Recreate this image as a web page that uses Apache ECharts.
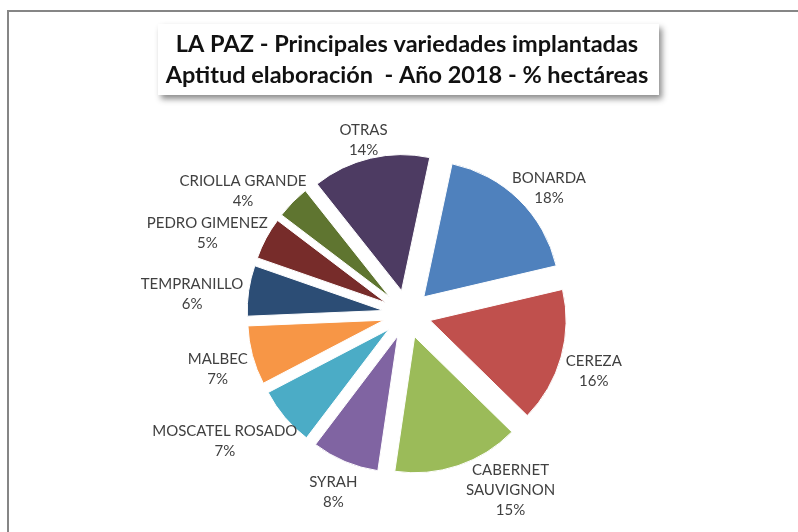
<!DOCTYPE html>
<html>
<head>
<meta charset="utf-8">
<script src="https://cdn.jsdelivr.net/npm/echarts@6/dist/echarts.min.js"></script>
<style>
  html, body { margin: 0; padding: 0; background: #ffffff; }
  #chart { width: 798px; height: 532px; }
</style>
</head>
<body>
<div id="chart"></div>
<script>
// Varieties, clockwise from the first slice
const categories = [
  'BONARDA', 'CEREZA', 'CABERNET\nSAUVIGNON', 'SYRAH', 'MOSCATEL ROSADO',
  'MALBEC', 'TEMPRANILLO', 'PEDRO GIMENEZ', 'CRIOLLA GRANDE', 'OTRAS'
];
// Share of hectares (%)
const shares = [18, 16, 15, 8, 7, 7, 6, 5, 4, 14];
const colors = [
  '#4F81BD', '#C0504D', '#9BBB59', '#8064A2', '#4BACC6',
  '#F79646', '#2C4D75', '#772C2A', '#5F7530', '#4D3B62'
];

const titleLines = [
  'LA PAZ - Principales variedades implantadas',
  'Aptitud elaboración  - Año 2018 - % hectáreas'
];

// Pie geometry
const CX = 407, CY = 314, RADIUS = 136, EXPLODE = 24;
const FIRST_ANGLE = 12;          // degrees clockwise from 12 o'clock
const LABEL_R = RADIUS + EXPLODE + 6;
const LABEL_DY = 7;
const LABEL_BOTTOM = 520;
const LABEL_FONT_SIZE = 15, LABEL_LINE = 20;
const LABEL_FONT = LABEL_FONT_SIZE + 'px Lato';

const total = shares.reduce((a, b) => a + b, 0);

// Mid-angle of every slice (clockwise from top, degrees)
const midAngles = [];
{
  let acc = FIRST_ANGLE;
  shares.forEach(v => {
    const span = v / total * 360;
    midAngles.push(acc + span / 2);
    acc += span;
  });
}

// Text measuring for the outside-end data labels
const measureCtx = document.createElement('canvas').getContext('2d');
measureCtx.font = LABEL_FONT;

function labelFor(i) {
  const text = categories[i] + '\n' + Math.round(shares[i] / total * 100) + '%';
  const lines = text.split('\n');
  const w = Math.max(...lines.map(l => measureCtx.measureText(l).width));
  const h = lines.length * LABEL_LINE;
  const a = midAngles[i] * Math.PI / 180;
  const s = Math.sin(a), c = Math.cos(a);
  let x = CX + LABEL_R * s + (w / 2) * s;
  let y = CY - LABEL_R * c - (h / 2) * c + LABEL_DY;
  if (y + h / 2 > LABEL_BOTTOM) {
    // Keep the label inside the plot: slide it up along the pie's outline
    y = LABEL_BOTTOM - h / 2;
    const cornerY = y - h / 2 - CY;
    const dx = Math.sqrt(Math.max(0, LABEL_R * LABEL_R - cornerY * cornerY));
    x = s >= 0 ? CX + dx + w / 2 - 20 : CX - dx - w / 2 + 20;
  }
  return {
    type: 'text',
    silent: true,
    z: 10,
    style: {
      text: text,
      x: x,
      y: y,
      align: 'center',
      verticalAlign: 'middle',
      font: LABEL_FONT,
      lineHeight: LABEL_LINE,
      fill: '#404040'
    }
  };
}

const chart = echarts.init(document.getElementById('chart'), null, { renderer: 'canvas' });

chart.setOption({
  backgroundColor: '#ffffff',
  animation: false,
  graphic: [
    {
      type: 'rect',
      shape: { x: 8, y: 11, width: 800, height: 540 },
      style: { fill: 'none', stroke: '#868686', lineWidth: 2 },
      silent: true
    },
    {
      type: 'rect',
      shape: { x: 158, y: 24, width: 501, height: 71 },
      style: {
        fill: '#ffffff',
        shadowBlur: 6,
        shadowColor: 'rgba(0,0,0,0.45)',
        shadowOffsetX: 3,
        shadowOffsetY: 4
      },
      silent: true
    }
  ].concat(categories.map((_, i) => labelFor(i))),
  title: {
    text: titleLines.join('\n'),
    left: 407,
    top: 29,
    textAlign: 'center',
    padding: 0,
    textStyle: {
      fontFamily: 'Lato',
      fontWeight: 'bold',
      fontSize: 23.5,
      lineHeight: 31,
      color: '#111111'
    }
  },
  series: [{
    type: 'pie',
    center: [CX, CY],
    radius: RADIUS,
    startAngle: 90 - FIRST_ANGLE,
    clockwise: true,
    selectedMode: 'multiple',
    selectedOffset: EXPLODE,
    itemStyle: { borderColor: '#ffffff', borderWidth: 1 },
    emphasis: { disabled: true },
    label: { show: false },
    labelLine: { show: false },
    data: categories.map((name, i) => ({
      name: name,
      value: shares[i],
      selected: true,
      itemStyle: { color: colors[i] }
    }))
  }]
});
</script>
</body>
</html>
